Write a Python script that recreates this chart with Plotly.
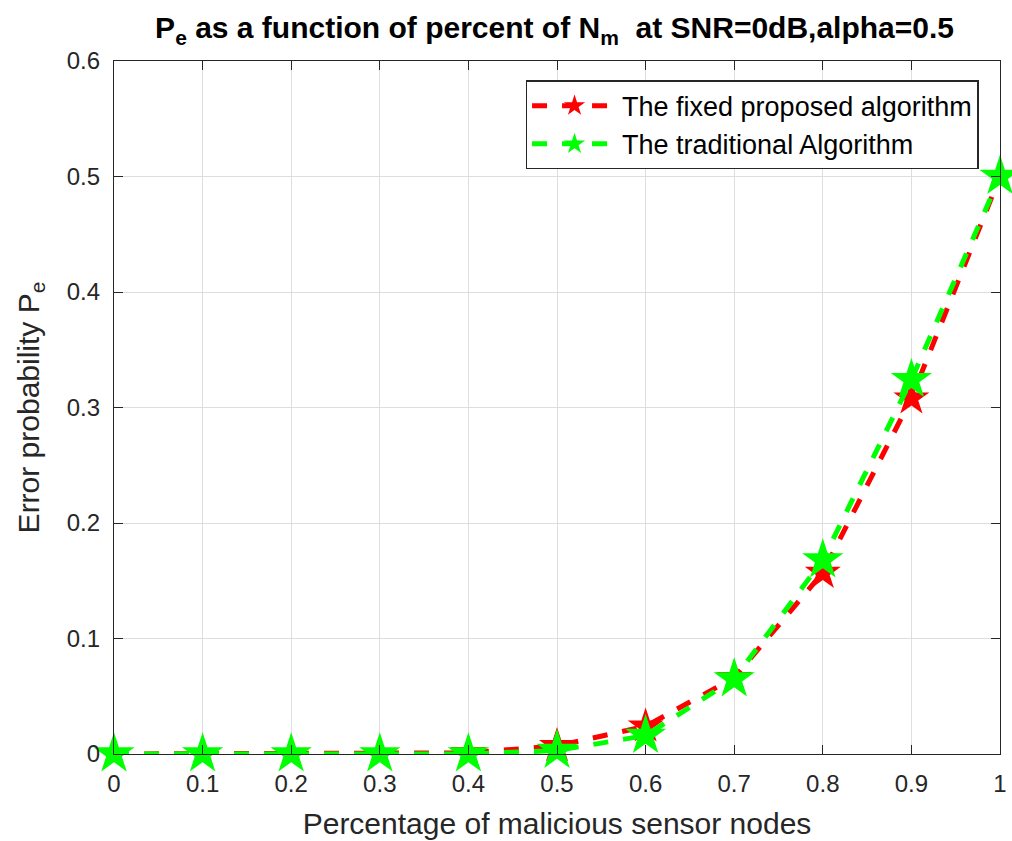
import plotly.graph_objects as go

x_vals = [0, 0.1, 0.2, 0.3, 0.4, 0.5, 0.6, 0.7, 0.8, 0.9, 1.0]
fixed_proposed = [0, 0, 0, 0, 0.001, 0.007, 0.024, 0.066, 0.157, 0.308, 0.5]
traditional = [0, 0, 0, 0, 0, 0.003, 0.016, 0.065, 0.168, 0.324, 0.5]

x_ticks = [0, 0.1, 0.2, 0.3, 0.4, 0.5, 0.6, 0.7, 0.8, 0.9, 1]
x_tick_text = ["0", "0.1", "0.2", "0.3", "0.4", "0.5", "0.6", "0.7", "0.8", "0.9", "1"]
y_ticks = [0, 0.1, 0.2, 0.3, 0.4, 0.5, 0.6]
y_tick_text = ["0", "0.1", "0.2", "0.3", "0.4", "0.5", "0.6"]

FONT = "Liberation Sans, Arial, Helvetica, sans-serif"
AX = "#262626"

fig = go.Figure()
fig.add_trace(go.Scatter(
    x=x_vals, y=fixed_proposed, mode="lines+markers",
    name="The fixed proposed algorithm",
    line=dict(color="#ff0000", width=5, dash="dash"),
    marker=dict(symbol="star", size=27, color="#ff0000", line=dict(width=0)),
    cliponaxis=False,
))
fig.add_trace(go.Scatter(
    x=x_vals, y=traditional, mode="lines+markers",
    name="The traditional Algorithm",
    line=dict(color="#00ff00", width=5, dash="dash"),
    marker=dict(symbol="star", size=31, color="#00ff00", line=dict(width=0)),
    cliponaxis=False,
))

axis_common = dict(
    showline=True, linecolor=AX, linewidth=1.3, mirror="ticks",
    ticks="inside", ticklen=9, tickwidth=1.2, tickcolor=AX,
    showgrid=True, gridcolor="#dedede", gridwidth=1,
    zeroline=False, automargin=False,
    tickfont=dict(family=FONT, size=24, color=AX),
)

fig.update_layout(
    width=1012, height=841,
    paper_bgcolor="white", plot_bgcolor="white",
    margin=dict(l=114, r=12, t=61, b=87),
    title=dict(
        text="<b>P<sub>e</sub> as a function of percent of N<sub>m</sub>  at SNR=0dB,alpha=0.5</b>",
        x=0.548, xanchor="center", y=0.967, yanchor="middle",
        font=dict(family=FONT, size=30, color="#000000"),
    ),
    xaxis=dict(
        range=[0, 1], tickvals=x_ticks, ticktext=x_tick_text,
        ticklabelstandoff=8,
        title=dict(text="Percentage of malicious sensor nodes",
                   font=dict(family=FONT, size=30, color=AX), standoff=17),
        **axis_common,
    ),
    yaxis=dict(
        range=[0, 0.6], tickvals=y_ticks, ticktext=y_tick_text,
        ticklabelstandoff=8,
        title=dict(text="Error probability P<sub>e</sub>",
                   font=dict(family=FONT, size=30, color=AX), standoff=18),
        **axis_common,
    ),
    legend=dict(
        x=0.976, xanchor="right", y=0.972, yanchor="top",
        bgcolor="white", bordercolor=AX, borderwidth=1.3,
        font=dict(family=FONT, size=27, color="#000000"),
        itemwidth=85, tracegroupgap=0,
    ),
    showlegend=True,
)

fig.write_html("out.html")
